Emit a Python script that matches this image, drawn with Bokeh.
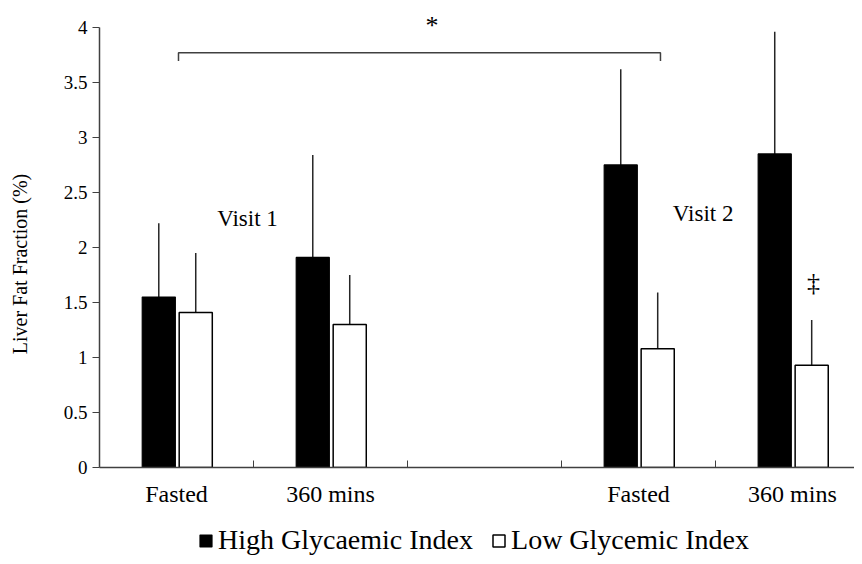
from bokeh.plotting import figure
from bokeh.layouts import column
from bokeh.models import (FixedTicker, Range1d, Legend, LegendItem, Label,
                          ColumnDataSource)
from bokeh.embed import file_html
from bokeh.resources import INLINE

# ---- data ----
x_labels = ["Fasted", "360 mins", "Fasted", "360 mins"]
group_pos = [0, 1, 3, 4]          # category slots (slot 2 is an empty gap)
category_bounds = [1, 2, 3, 4]
high_gi = [1.55, 1.91, 2.75, 2.85]
high_gi_err = [0.67, 0.93, 0.87, 1.11]
low_gi = [1.41, 1.30, 1.08, 0.93]
low_gi_err = [0.54, 0.45, 0.51, 0.41]
y_ticks = [0, 0.5, 1, 1.5, 2, 2.5, 3, 3.5, 4]
y_tick_labels = ["0", "0.5", "1", "1.5", "2", "2.5", "3", "3.5", "4"]
series_names = ["High Glycaemic Index", "Low Glycemic Index"]

FONT = "Liberation Serif"
AXIS_COLOR = "#404040"
ERR_COLOR = "#262626"
BAR_W = 0.215
HI_OFF = 0.385
LO_OFF = 0.625

p = figure(width=854, height=516, output_backend="svg", toolbar_location=None,
           x_range=Range1d(0, 4.903), y_range=Range1d(0, 4.245),
           min_border_left=99, min_border_right=0, min_border_top=0,
           min_border_bottom=49)
p.outline_line_color = None
p.xgrid.visible = False
p.ygrid.visible = False

hi_x = [g + HI_OFF for g in group_pos]
lo_x = [g + LO_OFF for g in group_pos]
src_hi = ColumnDataSource(dict(x=hi_x, top=high_gi,
                               etop=[v + e for v, e in zip(high_gi, high_gi_err)]))
src_lo = ColumnDataSource(dict(x=lo_x, top=low_gi,
                               etop=[v + e for v, e in zip(low_gi, low_gi_err)]))

p.segment(x0="x", y0="top", x1="x", y1="etop", source=src_hi,
          line_color=ERR_COLOR, line_width=1.5)
p.segment(x0="x", y0="top", x1="x", y1="etop", source=src_lo,
          line_color=ERR_COLOR, line_width=1.5)
p.vbar(x="x", top="top", bottom=0, width=BAR_W, source=src_hi,
       fill_color="black", line_color="black", line_width=1.2)
p.vbar(x="x", top="top", bottom=0, width=BAR_W, source=src_lo,
       fill_color="white", line_color="black", line_width=1.5)

# ---- axes ----
xa = p.xaxis[0]
xa.ticker = FixedTicker(ticks=[g + 0.5 for g in group_pos],
                        minor_ticks=category_bounds)
xa.major_label_overrides = {g + 0.5: lab for g, lab in zip(group_pos, x_labels)}
xa.major_tick_in = 0
xa.major_tick_out = 0
xa.minor_tick_in = 7
xa.minor_tick_out = 0
xa.minor_tick_line_color = AXIS_COLOR
xa.axis_line_color = AXIS_COLOR
xa.axis_line_width = 1.5
xa.major_label_text_font = FONT
xa.major_label_text_font_size = "24px"
xa.major_label_text_color = "black"
xa.major_label_standoff = 13

ya = p.yaxis[0]
ya.ticker = FixedTicker(ticks=y_ticks)
ya.major_label_overrides = {t: s for t, s in zip(y_ticks, y_tick_labels)}
ya.bounds = (0, 4)
ya.major_tick_in = 0
ya.major_tick_out = 7
ya.minor_tick_line_color = None
ya.axis_line_color = AXIS_COLOR
ya.axis_line_width = 1.5
ya.major_tick_line_color = AXIS_COLOR
ya.major_label_text_font = FONT
ya.major_label_text_font_size = "19px"
ya.major_label_text_color = "black"
ya.major_label_standoff = 5
# trailing em spaces shift the centred title down to where the reference has it
ya.axis_label = "Liver Fat Fraction (%)\u2003\u2003\u2003"
ya.axis_label_text_font = FONT
ya.axis_label_text_font_size = "20px"
ya.axis_label_text_font_style = "normal"
ya.axis_label_text_color = "black"
ya.axis_label_standoff = 30

# ---- significance bracket & annotations ----
br_x0, br_x1, br_y, br_drop = 0.513, 3.643, 3.77, 0.075
p.line(x=[br_x0, br_x0, br_x1, br_x1],
       y=[br_y - br_drop, br_y, br_y, br_y - br_drop],
       line_color=AXIS_COLOR, line_width=1.5)

def txt(x, y, s, size):
    p.add_layout(Label(x=x, y=y, text=s, text_font=FONT, text_font_size=size,
                       text_align="center", text_baseline="middle",
                       text_color="black"))

txt(2.16, 4.02, "*", "26px")
txt(0.961, 2.26, "Visit 1", "23px")
txt(3.92, 2.31, "Visit 2", "23px")
txt(4.636, 1.68, "\u2021", "26px")

# ---- legend strip below the chart ----
leg = figure(width=854, height=40, output_backend="svg", toolbar_location=None,
             x_range=Range1d(0, 1), y_range=Range1d(0, 1),
             x_axis_type=None, y_axis_type=None,
             min_border_left=0, min_border_right=0, min_border_top=0,
             min_border_bottom=0)
leg.outline_line_color = None
leg.xgrid.visible = False
leg.ygrid.visible = False
# legend-key renderers: a single NaN point, so nothing is drawn but the key
nan = float("nan")
k_hi = leg.vbar(x=[nan], top=[nan], width=0.1, fill_color="black",
                line_color="black", line_width=1.2)
k_lo = leg.vbar(x=[nan], top=[nan], width=0.1, fill_color="white",
                line_color="black", line_width=1.5)
legend = Legend(items=[LegendItem(label=series_names[0], renderers=[k_hi]),
                       LegendItem(label=series_names[1], renderers=[k_lo])],
                orientation="horizontal", location=(99, 0),
                label_text_font=FONT, label_text_font_size="28px",
                label_text_color="black",
                glyph_width=15, glyph_height=15, label_standoff=5,
                spacing=18, padding=0, margin=0,
                border_line_color=None, background_fill_alpha=0)
leg.add_layout(legend)

layout = column(p, leg, spacing=0)
open("out.html", "w").write(file_html(layout, INLINE))
